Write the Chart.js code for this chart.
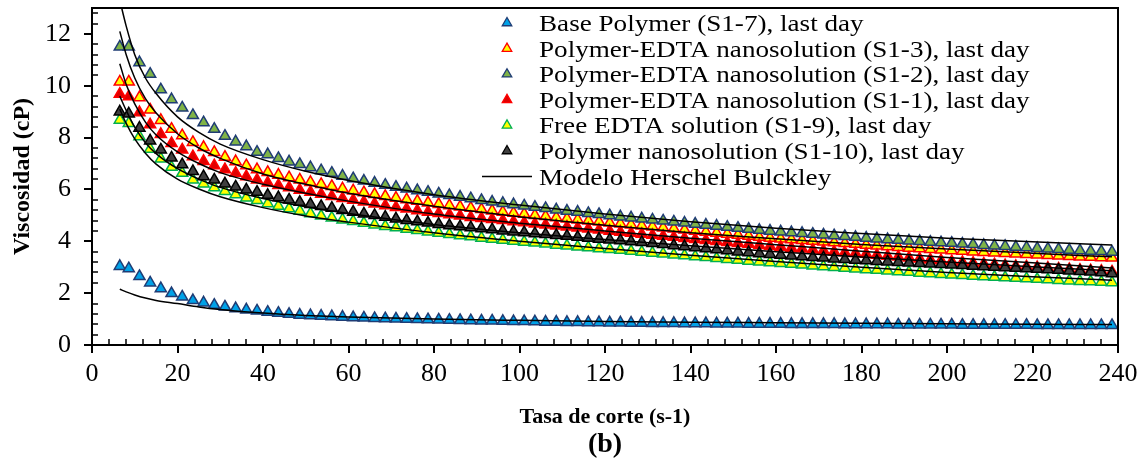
<!DOCTYPE html>
<html>
<head>
<meta charset="utf-8">
<script src="https://cdn.jsdelivr.net/npm/chart.js@4.4.1/dist/chart.umd.min.js"></script>
<style>
  html, body { margin: 0; padding: 0; background: #fff; }
</style>
</head>
<body>
<canvas id="MyChart" width="1145" height="465"></canvas>
<script>
// shear rate (s-1) of every measured point
const shearRate = [
  6.5, 8.6, 11.1, 13.6, 16.1, 18.6, 21.1, 23.6, 26.1, 28.6,
  31.1, 33.6, 36.1, 38.6, 41.1, 43.6, 46.1, 48.6, 51.1, 53.6,
  56.1, 58.6, 61.1, 63.6, 66.1, 68.6, 71.1, 73.6, 76.1, 78.6,
  81.1, 83.6, 86.1, 88.6, 91.1, 93.6, 96.1, 98.6, 101.1, 103.6,
  106.1, 108.6, 111.1, 113.6, 116.1, 118.6, 121.1, 123.6, 126.1, 128.6,
  131.1, 133.6, 136.1, 138.6, 141.1, 143.6, 146.1, 148.6, 151.1, 153.6,
  156.1, 158.6, 161.1, 163.6, 166.1, 168.6, 171.1, 173.6, 176.1, 178.6,
  181.1, 183.6, 186.1, 188.6, 191.1, 193.6, 196.1, 198.6, 201.1, 203.6,
  206.1, 208.6, 211.1, 213.6, 216.1, 218.6, 221.1, 223.6, 226.1, 228.6,
  231.1, 233.6, 236.1, 238.6
]

const baseS17 = [
  3.04, 2.95, 2.65, 2.4, 2.18, 1.99, 1.86, 1.72, 1.63, 1.54,
  1.47, 1.41, 1.36, 1.32, 1.27, 1.23, 1.19, 1.16, 1.14, 1.12,
  1.1, 1.08, 1.06, 1.05, 1.03, 1.02, 1.01, 1.0, 0.99, 0.98,
  0.97, 0.96, 0.95, 0.94, 0.93, 0.93, 0.92, 0.91, 0.91, 0.9,
  0.89, 0.89, 0.88, 0.88, 0.87, 0.87, 0.86, 0.86, 0.85, 0.85,
  0.84, 0.84, 0.84, 0.83, 0.83, 0.83, 0.82, 0.82, 0.82, 0.81,
  0.81, 0.81, 0.81, 0.8, 0.8, 0.8, 0.8, 0.8, 0.79, 0.79,
  0.79, 0.79, 0.79, 0.78, 0.78, 0.78, 0.78, 0.78, 0.78, 0.77,
  0.77, 0.77, 0.77, 0.77, 0.77, 0.77, 0.76, 0.76, 0.76, 0.76,
  0.76, 0.76, 0.76, 0.76
]

const edtaS13 = [
  10.15, 10.15, 9.55, 9.07, 8.67, 8.33, 8.08, 7.82, 7.63, 7.43,
  7.25, 7.08, 6.92, 6.77, 6.66, 6.56, 6.46, 6.37, 6.28, 6.2,
  6.12, 6.03, 5.95, 5.88, 5.81, 5.74, 5.67, 5.61, 5.55, 5.49,
  5.43, 5.38, 5.33, 5.28, 5.23, 5.18, 5.13, 5.09, 5.05, 5.0,
  4.96, 4.92, 4.87, 4.83, 4.79, 4.75, 4.71, 4.68, 4.64, 4.6,
  4.56, 4.52, 4.48, 4.44, 4.4, 4.36, 4.32, 4.28, 4.24, 4.2,
  4.16, 4.13, 4.1, 4.07, 4.04, 4.01, 3.98, 3.95, 3.92, 3.89,
  3.86, 3.83, 3.8, 3.77, 3.74, 3.72, 3.69, 3.67, 3.64, 3.62,
  3.6, 3.58, 3.56, 3.54, 3.52, 3.5, 3.48, 3.46, 3.44, 3.42,
  3.4, 3.39, 3.37, 3.36
]

const edtaS12 = [
  11.5, 11.5, 10.9, 10.45, 9.85, 9.47, 9.15, 8.86, 8.58, 8.33,
  8.06, 7.84, 7.66, 7.44, 7.35, 7.2, 7.07, 6.97, 6.85, 6.73,
  6.63, 6.52, 6.42, 6.33, 6.25, 6.17, 6.09, 6.03, 5.96, 5.9,
  5.83, 5.77, 5.71, 5.65, 5.58, 5.52, 5.47, 5.42, 5.37, 5.32,
  5.27, 5.22, 5.17, 5.13, 5.08, 5.04, 4.99, 4.95, 4.91, 4.87,
  4.83, 4.79, 4.75, 4.71, 4.67, 4.63, 4.59, 4.55, 4.51, 4.47,
  4.43, 4.4, 4.37, 4.34, 4.31, 4.28, 4.25, 4.22, 4.19, 4.16,
  4.13, 4.1, 4.07, 4.05, 4.02, 4.0, 3.97, 3.95, 3.93, 3.9,
  3.88, 3.85, 3.83, 3.81, 3.78, 3.76, 3.73, 3.71, 3.69, 3.66,
  3.64, 3.62, 3.61, 3.59
]

const edtaS11 = [
  9.68, 9.58, 8.97, 8.5, 8.13, 7.78, 7.53, 7.27, 7.09, 6.92,
  6.77, 6.63, 6.5, 6.37, 6.26, 6.16, 6.07, 5.98, 5.9, 5.82,
  5.74, 5.66, 5.59, 5.52, 5.45, 5.38, 5.31, 5.25, 5.19, 5.13,
  5.08, 5.03, 4.98, 4.93, 4.89, 4.85, 4.81, 4.76, 4.72, 4.68,
  4.64, 4.6, 4.56, 4.52, 4.48, 4.44, 4.4, 4.36, 4.32, 4.28,
  4.24, 4.2, 4.16, 4.12, 4.08, 4.04, 4.0, 3.96, 3.92, 3.89,
  3.85, 3.81, 3.78, 3.74, 3.71, 3.67, 3.64, 3.6, 3.57, 3.54,
  3.51, 3.47, 3.43, 3.4, 3.36, 3.33, 3.29, 3.26, 3.22, 3.19,
  3.16, 3.13, 3.1, 3.07, 3.04, 3.02, 2.99, 2.97, 2.94, 2.92,
  2.89, 2.87, 2.85, 2.82
]

const freeS19 = [
  8.68, 8.55, 8.04, 7.56, 7.18, 6.86, 6.63, 6.37, 6.22, 6.07,
  5.93, 5.8, 5.68, 5.58, 5.46, 5.36, 5.26, 5.17, 5.07, 4.98,
  4.91, 4.83, 4.77, 4.7, 4.64, 4.58, 4.53, 4.47, 4.42, 4.37,
  4.32, 4.27, 4.22, 4.18, 4.13, 4.09, 4.05, 4.01, 3.97, 3.94,
  3.9, 3.86, 3.83, 3.79, 3.76, 3.72, 3.69, 3.66, 3.62, 3.59,
  3.55, 3.52, 3.48, 3.45, 3.41, 3.38, 3.34, 3.31, 3.28, 3.24,
  3.21, 3.18, 3.15, 3.12, 3.09, 3.06, 3.03, 3.0, 2.97, 2.94,
  2.91, 2.89, 2.86, 2.83, 2.81, 2.78, 2.76, 2.73, 2.71, 2.69,
  2.66, 2.64, 2.62, 2.6, 2.58, 2.56, 2.54, 2.52, 2.5, 2.48,
  2.46, 2.45, 2.43, 2.41
]

const nanoS110 = [
  9.0, 8.92, 8.37, 7.88, 7.53, 7.22, 6.96, 6.7, 6.5, 6.37,
  6.22, 6.1, 5.99, 5.9, 5.78, 5.69, 5.6, 5.51, 5.43, 5.35,
  5.28, 5.2, 5.13, 5.06, 5.0, 4.94, 4.87, 4.81, 4.76, 4.71,
  4.66, 4.61, 4.57, 4.53, 4.49, 4.45, 4.41, 4.37, 4.34, 4.3,
  4.27, 4.23, 4.2, 4.16, 4.13, 4.09, 4.06, 4.03, 3.99, 3.96,
  3.92, 3.88, 3.84, 3.8, 3.76, 3.72, 3.68, 3.64, 3.6, 3.57,
  3.53, 3.5, 3.47, 3.44, 3.41, 3.38, 3.36, 3.33, 3.31, 3.28,
  3.26, 3.23, 3.21, 3.19, 3.17, 3.15, 3.13, 3.11, 3.09, 3.07,
  3.05, 3.03, 3.01, 2.99, 2.97, 2.95, 2.93, 2.91, 2.89, 2.86,
  2.84, 2.82, 2.79, 2.76
]

// Herschel Bulkley model curves, read at a few shear rates
const fitRate = [6.5, 8, 10, 12.5, 15, 20, 25, 30, 40, 50, 60, 80, 100, 120, 140, 160, 180, 200, 220, 238.6]
const fitS17 = [2.15, 2.05, 1.93, 1.81, 1.72, 1.6, 1.47, 1.37, 1.23, 1.14, 1.08, 1.0, 0.95, 0.91, 0.88, 0.86, 0.84, 0.82, 0.8, 0.79]
const fitS13 = [12.1, 11.2, 10.3, 9.5, 8.95, 8.15, 7.6, 7.2, 6.6, 6.2, 5.85, 5.35, 4.95, 4.62, 4.33, 4.1, 3.88, 3.7, 3.54, 3.4]
const fitS12 = [13.3, 12.3, 11.2, 10.3, 9.7, 8.8, 8.2, 7.75, 7.15, 6.7, 6.35, 5.8, 5.4, 5.05, 4.75, 4.5, 4.3, 4.12, 3.98, 3.86]
const fitS11 = [10.85, 10.05, 9.3, 8.6, 8.1, 7.45, 7.0, 6.65, 6.2, 5.85, 5.55, 5.05, 4.7, 4.4, 4.12, 3.87, 3.62, 3.38, 3.17, 2.97]
const fitS19 = [9.1, 8.55, 7.95, 7.4, 6.98, 6.4, 6.02, 5.72, 5.3, 4.98, 4.74, 4.33, 4.0, 3.72, 3.46, 3.22, 3.0, 2.8, 2.63, 2.5]
const fitS110 = [9.6, 9.05, 8.4, 7.8, 7.38, 6.8, 6.4, 6.08, 5.65, 5.33, 5.07, 4.65, 4.33, 4.07, 3.83, 3.6, 3.39, 3.2, 3.02, 2.86]

const xTickValues = [0, 20, 40, 60, 80, 100, 120, 140, 160, 180, 200, 220, 240]
const yTickValues = [0, 2, 4, 6, 8, 10, 12]

const FONT = '"Liberation Serif", "Times New Roman", serif'

const series = [
  { label: 'Base Polymer (S1-7), last day', data: baseS17, fit: fitS17, bg: '#00A2E8', border: '#1F3C74', order: 6 },
  { label: 'Polymer-EDTA nanosolution (S1-3), last day', data: edtaS13, fit: fitS13, bg: '#FFFF00', border: '#FF0000', order: 5 },
  { label: 'Polymer-EDTA nanosolution (S1-2), last day', data: edtaS12, fit: fitS12, bg: '#7FB347', border: '#1F3C74', order: 4 },
  { label: 'Polymer-EDTA nanosolution (S1-1), last day', data: edtaS11, fit: fitS11, bg: '#E00000', border: '#FF0000', order: 3 },
  { label: 'Free EDTA solution (S1-9), last day', data: freeS19, fit: fitS19, bg: '#FFFF00', border: '#00B050', order: 2 },
  { label: 'Polymer nanosolution (S1-10), last day', data: nanoS110, fit: fitS110, bg: '#404040', border: '#000000', order: 1 }
]
const fitLabel = 'Modelo Herschel Bulckley'

let datasets = []
series.forEach(s => {
  datasets.push({
    label: s.label,
    data: shearRate.map((x, i) => ({ x: x, y: s.data[i] })),
    pointStyle: 'triangle',
    pointRadius: 6.4,
    pointBorderWidth: 1.5,
    backgroundColor: s.bg,
    borderColor: s.border,
    order: s.order
  })
})
series.forEach(s => {
  datasets.push({
    label: fitLabel,
    data: fitRate.map((x, i) => ({ x: x, y: s.fit[i] })),
    showLine: true,
    pointRadius: 0,
    borderColor: '#000',
    borderWidth: 1.5,
    cubicInterpolationMode: 'monotone',
    order: 0
  })
})

// top and right sides of the plot box
const framePlugin = {
  id: 'frame',
  afterDatasetsDraw(chart) {
    const { ctx, chartArea: a } = chart
    ctx.save()
    ctx.strokeStyle = '#000'
    ctx.lineWidth = 2
    ctx.beginPath()
    ctx.moveTo(a.left, a.top)
    ctx.lineTo(a.right, a.top)
    ctx.lineTo(a.right, a.bottom)
    ctx.stroke()
    ctx.restore()
  }
}

// small inner ticks between the labelled ones
const minorTicks = {
  id: 'minorTicks',
  afterDatasetsDraw(chart) {
    const { ctx, chartArea: a, scales } = chart
    ctx.save()
    ctx.strokeStyle = '#000'
    ctx.lineWidth = 1.5
    ctx.beginPath()
    for (let v = 4; v < 240; v += 4) {
      if (v % 20 === 0) continue
      const px = Math.round(scales.x.getPixelForValue(v))
      ctx.moveTo(px, a.bottom)
      ctx.lineTo(px, a.bottom - 6)
    }
    for (let k = 1; k <= 32; k++) {
      if (k % 5 === 0) continue
      const py = Math.round(scales.y.getPixelForValue(k * 0.4))
      ctx.moveTo(a.left, py)
      ctx.lineTo(a.left + 6, py)
    }
    ctx.stroke()
    ctx.restore()
  }
}

const legendPlugin = {
  id: 'insideLegend',
  afterDraw(chart) {
    const ctx = chart.ctx
    ctx.save()
    ctx.font = '24px ' + FONT
    ctx.textBaseline = 'alphabetic'
    series.forEach((s, i) => {
      const y = 23 + i * 25.6
      ctx.fillStyle = s.bg
      ctx.strokeStyle = s.border
      ctx.lineWidth = 1.3
      Chart.helpers.drawPoint(ctx, { pointStyle: 'triangle', radius: 5.5, borderWidth: 1.3 }, 507, y)
      ctx.fillStyle = '#000'
      ctx.save()
      ctx.translate(539, y + 8)
      ctx.scale(1.13, 1)
      ctx.fillText(s.label, 0, 0)
      ctx.restore()
    })
    const y = 23 + 6 * 25.6
    ctx.strokeStyle = '#000'
    ctx.lineWidth = 1.5
    ctx.beginPath()
    ctx.moveTo(482, y)
    ctx.lineTo(532, y)
    ctx.stroke()
    ctx.fillStyle = '#000'
    ctx.translate(539, y + 8)
    ctx.scale(1.13, 1)
    ctx.fillText(fitLabel, 0, 0)
    ctx.restore()
  }
}

const captionPlugin = {
  id: 'caption',
  afterDraw(chart) {
    const { ctx, chartArea: a } = chart
    ctx.save()
    ctx.font = 'bold 28px ' + FONT
    ctx.fillStyle = '#000'
    ctx.textAlign = 'center'
    ctx.textBaseline = 'middle'
    ctx.fillText('(b)', (a.left + a.right) / 2, 445)
    ctx.restore()
  }
}

let ctx = document.getElementById('MyChart')
new Chart(ctx, {
  type: 'scatter',
  data: { datasets: datasets },
  options: {
    responsive: false,
    animation: false,
    events: [],
    layout: { padding: { top: 8, right: 27, left: 0, bottom: 0 } },
    plugins: {
      legend: { display: false },
      tooltip: { enabled: false }
    },
    scales: {
      x: {
        type: 'linear',
        min: 0,
        max: 240,
        afterBuildTicks: s => { s.ticks = xTickValues.map(v => ({ value: v })) },
        afterFit: s => { s.height = 120; s.paddingLeft = 0; s.paddingRight = 0 },
        ticks: { font: { family: FONT, size: 26 }, color: '#000', padding: 6, maxRotation: 0, autoSkip: false },
        grid: { drawOnChartArea: false, drawTicks: true, tickLength: 8, color: '#000', lineWidth: 2 },
        border: { display: true, color: '#000', width: 2 },
        title: {
          display: true,
          text: 'Tasa de corte (s-1)',
          font: { family: FONT, size: 22, weight: 'bold' },
          color: '#000',
          padding: { top: 0, bottom: 34 }
        }
      },
      y: {
        type: 'linear',
        min: 0,
        max: 13,
        afterBuildTicks: s => { s.ticks = yTickValues.map(v => ({ value: v })) },
        afterFit: s => { s.width = 92; s.paddingTop = 0; s.paddingBottom = 0 },
        ticks: { font: { family: FONT, size: 26 }, color: '#000', padding: 13, autoSkip: false },
        grid: { drawOnChartArea: false, drawTicks: true, tickLength: 8, color: '#000', lineWidth: 2 },
        border: { display: true, color: '#000', width: 2 },
        title: {
          display: true,
          text: 'Viscosidad (cP)',
          font: { family: FONT, size: 24, weight: 'bold' },
          color: '#000',
          padding: { top: 8, bottom: 0 }
        }
      }
    }
  },
  plugins: [framePlugin, minorTicks, legendPlugin, captionPlugin]
})
</script>
</body>
</html>
